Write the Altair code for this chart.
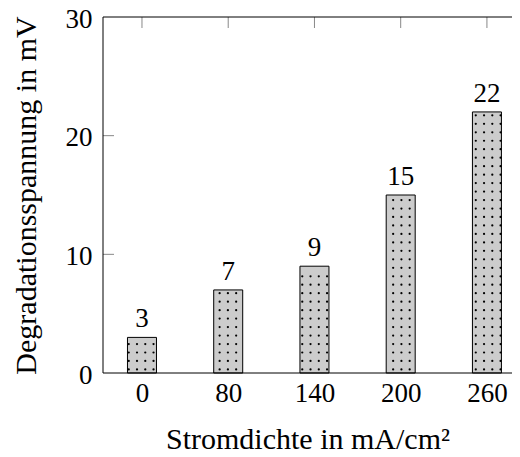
import altair as alt
import pandas as pd
import numpy as np

categories = ["0", "80", "140", "200", "260"]
values = [3, 7, 9, 15, 22]
y_ticks = [0, 10, 20, 30]

FONT = "Liberation Serif"
FS = 27
TFS = 30
W, H = 409, 356

bars = pd.DataFrame({"x": list(range(len(categories))), "y": values, "cat": categories})

# dot texture for bars (page-anchored lattice, like pgfplots 'dots' pattern)
px_per_x = 88.4
px_per_y = H / 30
step_x = 8.47 / px_per_x
step_y = 8.47 / px_per_y
half = 14.0 / px_per_x
dots = []
for i, v in enumerate(values):
    xs = -0.0577 + step_x * np.arange(-5, 60)
    xs = xs[np.abs(xs - i) <= half]
    ys = 0.3 + step_y * np.arange(0, 60)
    ys = ys[ys < v - 0.15]
    for xx in xs:
        for yy in ys:
            dots.append({"x": xx, "y": yy})
dots = pd.DataFrame(dots)

label_expr = "[" + ",".join("'%s'" % c for c in categories) + "][datum.value]"

xscale = alt.Scale(domain=[-0.394, -0.394 + W / px_per_x], nice=False, zero=False)
yscale = alt.Scale(domain=[0, 30], nice=False)

xaxis = alt.Axis(values=list(range(len(categories))), labelExpr=label_expr, ticks=False,
                 domain=False, grid=False, labelFont=FONT, labelFontSize=FS, labelColor="black",
                 labelPadding=7, title="Stromdichte in mA/cm²", titleFont=FONT,
                 titleFontSize=TFS, titleFontWeight="normal", titleColor="black", titlePadding=18)
yaxis = alt.Axis(values=y_ticks, ticks=False, domain=False, grid=False, labelFont=FONT,
                 labelFontSize=FS, labelColor="black", labelPadding=11, labelOffset=2,
                 title="Degradationsspannung in mV", titleFont=FONT, titleFontSize=TFS,
                 titleFontWeight="normal", titleColor="black", titlePadding=24)

X = alt.X("x:Q", scale=xscale, axis=xaxis)
Y = alt.Y("y:Q", scale=yscale, axis=yaxis)

bar_layer = alt.Chart(bars).mark_bar(fill="#cccccc", stroke="black", strokeWidth=1, size=29).encode(x=X, y=Y)
dot_layer = alt.Chart(dots).mark_circle(size=5, color="black", opacity=1).encode(x=X, y=Y)
text_layer = alt.Chart(bars).mark_text(font=FONT, fontSize=FS, baseline="alphabetic", dy=-10,
                                       color="black").encode(x=X, y=Y, text=alt.Text("y:Q"))

ytick_df = pd.DataFrame({"y": [10, 20]})
xtick_df = pd.DataFrame({"x": list(range(len(categories)))})
tick_color = "#888888"
left_ticks = alt.Chart(ytick_df).mark_rule(color=tick_color, strokeWidth=1).encode(
    y=Y, x=alt.value(0), x2=alt.value(11))
top_ticks = alt.Chart(xtick_df).mark_rule(color=tick_color, strokeWidth=1).encode(
    x=X, y=alt.value(0), y2=alt.value(11))

border_df = pd.DataFrame({"k": [0]})
left_border = alt.Chart(border_df).mark_rule(color="black", strokeWidth=1).encode(
    x=alt.value(0), y=alt.value(0), y2=alt.value(H))
top_border = alt.Chart(border_df).mark_rule(color="black", strokeWidth=1).encode(
    x=alt.value(0), x2=alt.value(W), y=alt.value(0))
bottom_border = alt.Chart(border_df).mark_rule(color="black", strokeWidth=1).encode(
    x=alt.value(0), x2=alt.value(W), y=alt.value(H))

chart = alt.layer(left_ticks, top_ticks, bar_layer, dot_layer, text_layer,
                  left_border, top_border, bottom_border).properties(
    width=W, height=H,
    autosize=alt.AutoSizeParams(type="none"),
    padding={"left": 95, "top": 9, "right": 0, "bottom": 84},
    background="white",
).configure(font=FONT).configure_view(stroke=None)

chart.save("out.html", embed_options={"renderer": "svg", "actions": False})
